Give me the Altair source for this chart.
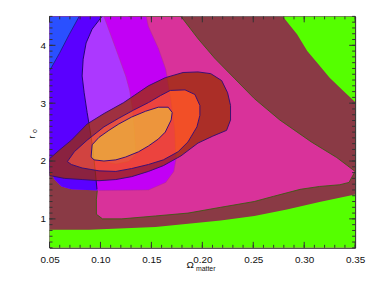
import altair as alt
import pandas as pd

# ---- axis ----
X_DOMAIN = [0.05, 0.35]
Y_DOMAIN = [0.5, 4.5]
X_LABELS = [0.05, 0.10, 0.15, 0.20, 0.25, 0.30, 0.35]
Y_LABELS = [1, 2, 3, 4]
X_MINOR = [round(0.05 + 0.01 * i, 2) for i in range(31)]
Y_MINOR = [round(0.5 + 0.1 * i, 1) for i in range(41)]

# ---- confidence regions, data A (green / maroon / pink) ----
MAROON_X = [0.05, 0.35, 0.35, 0.05]
MAROON_Y = [0.5, 0.5, 4.5, 4.5]
GREEN_LOW_X = [0.05, 0.089, 0.154, 0.218, 0.251, 0.283, 0.315, 0.35, 0.35, 0.05]
GREEN_LOW_Y = [0.81, 0.81, 0.86, 0.97, 1.05, 1.16, 1.29, 1.42, 0.5, 0.5]
GREEN_TOP_X = [0.279, 0.293, 0.303, 0.315, 0.325, 0.338, 0.35, 0.35]
GREEN_TOP_Y = [4.5, 4.19, 3.90, 3.65, 3.44, 3.22, 3.02, 4.5]
PINK_X = [0.179, 0.196, 0.212, 0.232, 0.251, 0.276, 0.307, 0.332, 0.35, 0.344, 0.335,
          0.315, 0.296, 0.270, 0.251, 0.218, 0.186, 0.154, 0.121, 0.102, 0.096, 0.096,
          0.097, 0.099, 0.108, 0.128]
PINK_Y = [4.5, 4.11, 3.78, 3.42, 3.08, 2.71, 2.33, 2.06, 1.82, 1.63, 1.59,
          1.56, 1.51, 1.39, 1.30, 1.20, 1.10, 1.05, 1.00, 1.00, 1.08, 1.34,
          1.51, 2.19, 3.05, 4.5]

# ---- data B (blue / indigo / purple / magenta) ----
MAG_X = [0.05, 0.145, 0.147, 0.157, 0.164, 0.169, 0.173, 0.174, 0.172, 0.164, 0.147,
         0.0986, 0.0714, 0.0617, 0.0549, 0.05]
MAG_Y = [4.5, 4.5, 4.33, 3.94, 3.59, 3.08, 2.53, 2.02, 1.82, 1.63, 1.50,
         1.49, 1.51, 1.56, 1.68, 1.85]
IND_X = [0.05, 0.1015, 0.0918, 0.0859, 0.0830, 0.0820, 0.0840, 0.0869, 0.0898, 0.0927,
         0.0947, 0.0966, 0.0966, 0.0714, 0.0617, 0.0549, 0.05]
IND_Y = [4.5, 4.5, 4.28, 4.04, 3.76, 3.47, 3.18, 2.84, 2.53, 2.19,
         1.85, 1.51, 1.49, 1.51, 1.56, 1.68, 1.85]
PUR_X = [0.1015, 0.0918, 0.0859, 0.0830, 0.0820, 0.0840, 0.0869, 0.0898, 0.0927, 0.0937,
         0.1151, 0.1277, 0.1345, 0.1335, 0.1316, 0.1287, 0.1248, 0.1151, 0.1034]
PUR_Y = [4.5, 4.28, 4.04, 3.76, 3.47, 3.18, 2.84, 2.53, 2.19, 2.02,
         1.95, 1.99, 2.11, 2.48, 2.88, 3.22, 3.47, 3.94, 4.5]
BLUE_X = [0.05, 0.0791, 0.0694, 0.0597, 0.05]
BLUE_Y = [4.5, 4.5, 4.19, 3.86, 3.56]

# ---- data C (nested ellipses) ----
OUT_X = [0.05, 0.0597, 0.0714, 0.0869, 0.1034, 0.1228, 0.1471, 0.1636, 0.1811, 0.1957,
         0.2083, 0.2190, 0.2248, 0.2277, 0.2277, 0.2238, 0.2102, 0.1957, 0.1791, 0.1617,
         0.1471, 0.1306, 0.1151, 0.0986, 0.0820, 0.0646, 0.05]
OUT_Y = [2.04, 2.19, 2.36, 2.64, 2.82, 3.01, 3.30, 3.44, 3.53, 3.54,
         3.51, 3.39, 3.18, 2.96, 2.71, 2.53, 2.43, 2.31, 2.09, 1.92,
         1.82, 1.73, 1.68, 1.66, 1.68, 1.70, 1.75]
MID_X = [0.0675, 0.0743, 0.0869, 0.1034, 0.1180, 0.1325, 0.1471, 0.1588, 0.1685, 0.1830,
         0.1927, 0.1976, 0.1976, 0.1947, 0.1859, 0.1762, 0.1617, 0.1471, 0.1306, 0.1151,
         0.0986, 0.0820, 0.0714]
MID_Y = [1.99, 2.16, 2.36, 2.59, 2.74, 2.88, 3.01, 3.13, 3.22, 3.23,
         3.15, 2.96, 2.79, 2.59, 2.33, 2.16, 2.02, 1.94, 1.87, 1.82,
         1.83, 1.88, 1.94]
INN_X = [0.0908, 0.0918, 0.0986, 0.1083, 0.1180, 0.1306, 0.1442, 0.1568, 0.1665, 0.1704,
         0.1694, 0.1636, 0.1568, 0.1471, 0.1374, 0.1248, 0.1151, 0.1034, 0.0937]
INN_Y = [2.07, 2.28, 2.41, 2.53, 2.64, 2.76, 2.86, 2.93, 2.93, 2.84,
         2.71, 2.50, 2.38, 2.26, 2.16, 2.07, 2.02, 2.00, 2.02]

W, H = 309, 234
xs = alt.Scale(domain=X_DOMAIN, nice=False, zero=False)
ys = alt.Scale(domain=Y_DOMAIN, nice=False, zero=False)
FONT = "Liberation Sans"
x_axis = alt.Axis(values=X_LABELS, format=".2f", ticks=False, domain=False, grid=False,
                  labelFlush=False, labelOverlap=False,
                  labelFontSize=10, labelFont=FONT, labelColor="#111", labelPadding=7, title=None)
y_axis = alt.Axis(values=Y_LABELS, format="d", ticks=False, domain=False, grid=False,
                  labelFlush=False, labelOverlap=False,
                  labelFontSize=10, labelFont=FONT, labelColor="#111", labelPadding=4, title=None)


def path_df(px, py):
    return pd.DataFrame({"x": px, "y": py, "o": list(range(len(px)))})


def closed(px, py):
    return list(px) + [px[0]], list(py) + [py[0]]


def keyhole(ox, oy, ix, iy):
    px = list(ox) + [ox[0], ix[0]] + list(ix[::-1]) + [ox[0]]
    py = list(oy) + [oy[0], iy[0]] + list(iy[::-1]) + [oy[0]]
    return px, py


def enc(ch):
    return ch.encode(x=alt.X("x:Q", scale=xs, axis=x_axis),
                     y=alt.Y("y:Q", scale=ys, axis=y_axis),
                     order="o:Q")


def fill_layer(px, py, color, opacity=1.0):
    cx, cy = closed(px, py)
    return enc(alt.Chart(path_df(cx, cy)).mark_line(
        fill=color, fillOpacity=opacity, strokeOpacity=0, clip=True, interpolate="linear"))


def ring_layer(ox, oy, ix, iy, color, opacity):
    px, py = keyhole(ox, oy, ix, iy)
    return enc(alt.Chart(path_df(px, py)).mark_line(
        fill=color, fillOpacity=opacity, strokeOpacity=0, clip=True, interpolate="linear"))


def stroke_layer(px, py, color, width=1.0, opacity=1.0, close=True):
    if close:
        px, py = closed(px, py)
    return enc(alt.Chart(path_df(px, py)).mark_line(
        color=color, strokeWidth=width, strokeOpacity=opacity, clip=True, interpolate="linear"))


layers = [
    fill_layer(MAROON_X, MAROON_Y, "#8A3A45"),
    fill_layer(GREEN_LOW_X, GREEN_LOW_Y, "#55FF00"),
    fill_layer(GREEN_TOP_X, GREEN_TOP_Y, "#55FF00"),
    fill_layer(PINK_X, PINK_Y, "#D9329A"),
    stroke_layer(PINK_X, PINK_Y, "#3E5A12", 0.9),
    fill_layer(MAG_X, MAG_Y, "#C200F5"),
    fill_layer(IND_X, IND_Y, "#5A00FF"),
    fill_layer(PUR_X, PUR_Y, "#AC38FF"),
    fill_layer(BLUE_X, BLUE_Y, "#2A50FF"),
    stroke_layer(MAG_X[1:12], MAG_Y[1:12], "#B0308A", 0.8, 0.6, close=False),
    stroke_layer(PUR_X[9:], PUR_Y[9:], "#B0308A", 0.8, 0.6, close=False),
    stroke_layer(IND_X[1:12], IND_Y[1:12], "#1E0870", 1.0, close=False),
    stroke_layer(BLUE_X[1:], BLUE_Y[1:], "#16207A", 0.8, close=False),
    ring_layer(OUT_X, OUT_Y, MID_X, MID_Y, "#9B2D00", 0.75),
    ring_layer(MID_X, MID_Y, INN_X, INN_Y, "#FA5A00", 0.75),
    fill_layer(INN_X, INN_Y, "#F2A528", 0.9),
    stroke_layer(OUT_X, OUT_Y, "#3A1070", 1.0),
    stroke_layer(MID_X, MID_Y, "#3A1070", 1.0),
    stroke_layer(INN_X, INN_Y, "#3A1070", 1.0),
]

# inward ticks on all four sides
TICK = "#333333"
def xticks(vals, length):
    df = pd.DataFrame({"x": vals})
    b = alt.Chart(df).mark_rule(color=TICK, strokeWidth=1).encode(
        x=alt.X("x:Q", scale=xs, axis=x_axis), y=alt.value(H), y2=alt.value(H - length))
    t = alt.Chart(df).mark_rule(color=TICK, strokeWidth=1).encode(
        x=alt.X("x:Q", scale=xs, axis=x_axis), y=alt.value(0), y2=alt.value(length))
    return [b, t]

def yticks(vals, length):
    df = pd.DataFrame({"y": vals})
    l = alt.Chart(df).mark_rule(color=TICK, strokeWidth=1).encode(
        y=alt.Y("y:Q", scale=ys, axis=y_axis), x=alt.value(0), x2=alt.value(length))
    r = alt.Chart(df).mark_rule(color=TICK, strokeWidth=1).encode(
        y=alt.Y("y:Q", scale=ys, axis=y_axis), x=alt.value(W), x2=alt.value(W - length))
    return [l, r]

layers += xticks(X_MINOR, 3) + xticks(X_LABELS, 6) + yticks(Y_MINOR, 3) + yticks(Y_LABELS, 6)

# axis titles with subscripts
txt = pd.DataFrame({"t": [""]})
layers += [
    alt.Chart(txt).mark_text(text="Ω", font=FONT, fontSize=10, color="#111", align="right",
                             baseline="alphabetic").encode(x=alt.value(146), y=alt.value(254)),
    alt.Chart(txt).mark_text(text="matter", font=FONT, fontSize=7, color="#111", align="left",
                             baseline="alphabetic").encode(x=alt.value(148), y=alt.value(257)),
    alt.Chart(txt).mark_text(text="r", font=FONT, fontSize=10, color="#111", angle=270,
                             align="center", baseline="middle").encode(x=alt.value(-18), y=alt.value(122)),
    alt.Chart(txt).mark_text(text="o", font=FONT, fontSize=7, color="#111", angle=270,
                             align="center", baseline="middle").encode(x=alt.value(-15), y=alt.value(116)),
]

chart = alt.layer(*layers).properties(
    width=W, height=H,
    autosize=alt.AutoSizeParams(type="none"),
    padding={"left": 42, "top": 7, "right": 11, "bottom": 24},
).configure_view(stroke="#222222", strokeWidth=1)

chart.save("out.html", embed_options={"renderer": "svg", "actions": False})
